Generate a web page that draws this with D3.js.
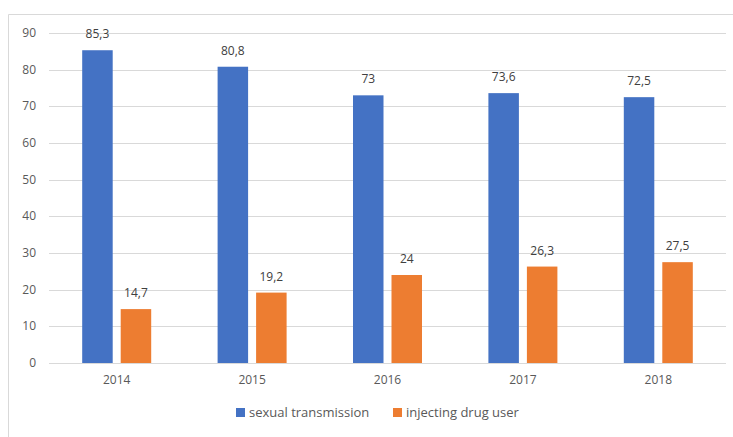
<!DOCTYPE html>
<html>
<head>
<meta charset="utf-8">
<script src="https://cdn.jsdelivr.net/npm/d3@7"></script>
<style>
  body { margin: 0; background: #fff; }
  text { font-family: "Open Sans", "Liberation Sans", sans-serif; fill: #595959; }
</style>
</head>
<body>
<div id="chart"></div>
<script>
const years = ['2014', '2015', '2016', '2017', '2018'];
const sexualTransmission = [85.3, 80.8, 73, 73.6, 72.5];
const injectingDrugUser = [14.7, 19.2, 24, 26.3, 27.5];
const seriesNames = ['sexual transmission', 'injecting drug user'];
const seriesColors = ['#4472C4', '#ED7D31'];
const yTicks = [0, 10, 20, 30, 40, 50, 60, 70, 80, 90];

const width = 733;
const height = 437;
const margin = { top: 33, right: 7, bottom: 74, left: 49 };
const innerWidth = width - margin.left - margin.right;
const innerHeight = height - margin.top - margin.bottom;

const svg = d3.select('#chart')
  .append('svg')
  .attr('width', width)
  .attr('height', height);

// outer chart frame: only top and left edges are visible in the crop
svg.append('path')
  .attr('d', `M8.5,${height}V14.5H${width}`)
  .attr('fill', 'none')
  .attr('stroke', '#d9d9d9');

const g = svg.append('g')
  .attr('transform', `translate(${margin.left}, ${margin.top})`);

const x = d3.scaleBand()
  .domain(years)
  .range([0, innerWidth]);

const y = d3.scaleLinear()
  .domain([0, 90])
  .range([innerHeight, 0]);

const barWidth = 30.5;
const barGap = 8;

// gridlines
g.append('g')
  .selectAll('line')
  .data(yTicks)
  .join('line')
  .attr('x1', 0)
  .attr('x2', innerWidth)
  .attr('y1', d => Math.round(y(d)) + 0.5)
  .attr('y2', d => Math.round(y(d)) + 0.5)
  .attr('stroke', '#d9d9d9');

// y labels
g.append('g')
  .selectAll('text')
  .data(yTicks)
  .join('text')
  .attr('x', -13)
  .attr('y', d => y(d) + 4)
  .attr('text-anchor', 'end')
  .style('font-size', '12px')
  .text(d => d);

const xAxis = d3.axisBottom(x)
  .tickSize(0)
  .tickPadding(12);

g.append('g')
  .attr('transform', `translate(0, ${innerHeight})`)
  .call(xAxis)
  .call(sel => sel.select('.domain').remove())
  .selectAll('text')
  .style('font-size', '12px');

const series = [sexualTransmission, injectingDrugUser];
const fmt = v => String(v).replace('.', ',');

series.forEach((values, si) => {
  const offset = si === 0 ? -barGap / 2 - barWidth : barGap / 2;
  const data = years.map((yr, i) => ({ yr, v: values[i] }));
  const cx = d => x(d.yr) + x.bandwidth() / 2 + offset;

  g.append('g')
    .selectAll('rect')
    .data(data)
    .join('rect')
    .attr('x', cx)
    .attr('y', d => y(d.v))
    .attr('width', barWidth)
    .attr('height', d => innerHeight - y(d.v))
    .attr('fill', seriesColors[si]);

  g.append('g')
    .selectAll('text')
    .data(data)
    .join('text')
    .attr('x', d => cx(d) + barWidth / 2)
    .attr('y', d => y(d.v) - 12)
    .attr('text-anchor', 'middle')
    .style('font-size', '12px')
    .style('fill', '#404040')
    .text(d => fmt(d.v));
});

// legend
const legendItems = [
  { name: seriesNames[0], color: seriesColors[0], x: 236 },
  { name: seriesNames[1], color: seriesColors[1], x: 393 },
];

const legend = svg.append('g');
legendItems.forEach(item => {
  legend.append('rect')
    .attr('x', item.x)
    .attr('y', 408)
    .attr('width', 9)
    .attr('height', 9)
    .attr('fill', item.color);
  legend.append('text')
    .attr('x', item.x + 13)
    .attr('y', 417)
    .style('font-size', '13px')
    .text(item.name);
});
</script>
</body>
</html>
